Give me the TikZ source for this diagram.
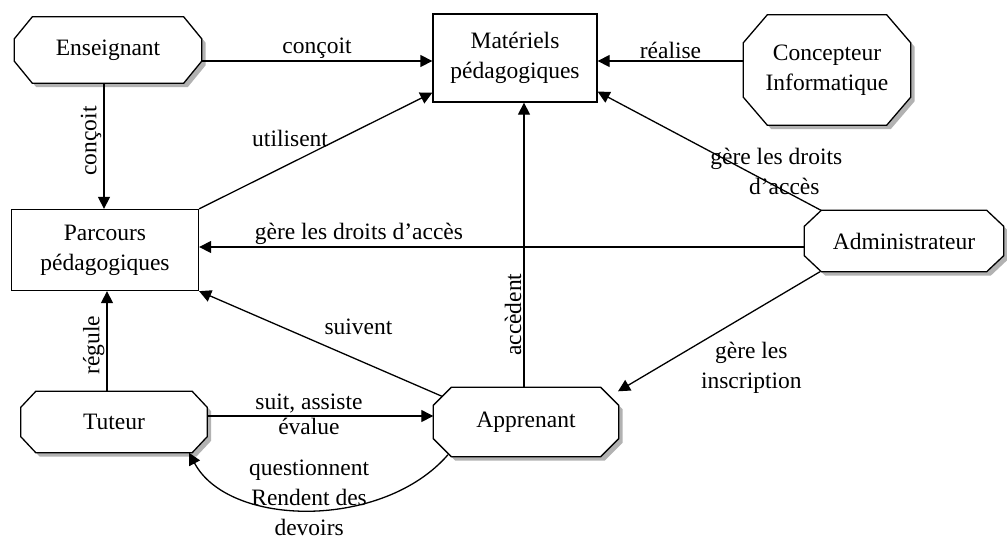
\documentclass[tikz,border=0pt]{standalone}
\usepackage{fontspec}
\setmainfont{Liberation Serif}
\usetikzlibrary{arrows.meta,shadows,backgrounds}
\newcommand{\octogone}[3]{%
  \draw[contour] ([xshift=#2]#1.north west) -- ([xshift=-#2]#1.north east) -- ([yshift=-#3]#1.north east)
    -- ([yshift=#3]#1.south east) -- ([xshift=-#2]#1.south east) -- ([xshift=#2]#1.south west)
    -- ([yshift=#3]#1.south west) -- ([yshift=-#3]#1.north west) -- cycle;}
\begin{document}
\begin{tikzpicture}[x=1pt,y=-1pt,
  every node/.style={font=\fontsize{23.5}{30}\selectfont},
  acteur/.style={rectangle, inner sep=0pt, align=center},
  contour/.style={line width=1.3pt, fill=white,
    drop shadow={shadow xshift=4pt,shadow yshift=-4pt,opacity=1,fill=gray!60}},
  objet/.style={rectangle, draw, fill=white, line width=1.3pt, inner sep=0pt, align=center},
  lien/.style={line width=1.3pt, -{Triangle[length=12pt,width=12pt]}},
  lab/.style={inner sep=2pt, align=center}]
  \useasboundingbox (0,0) rectangle (1007,542);
  \clip (0,0) rectangle (1007,542);
  \node[acteur, minimum width=187pt, minimum height=66pt] (ens) at (108,50) {Enseignant};
  \node[objet, minimum width=164pt, minimum height=88pt] (mat) at (515,58) {Matériels\\pédagogiques};
  \node[acteur, minimum width=167pt, minimum height=110pt] (conc) at (827,70) {Concepteur\\Informatique};
  \node[objet, minimum width=187pt, minimum height=81pt] (par) at (105,250) {Parcours\\pédagogiques};
  \node[acteur, minimum width=199pt, minimum height=61pt] (adm) at (904,241) {Administrateur};
  \node[acteur, minimum width=186pt, minimum height=61pt] (tut) at (114,422) {Tuteur};
  \node[acteur, minimum width=185pt, minimum height=69pt] (app) at (526,422) {Apprenant};
  \begin{scope}[on background layer]
    \octogone{ens}{18pt}{22pt}
    \octogone{conc}{24pt}{28pt}
    \octogone{adm}{17pt}{16pt}
    \octogone{tut}{15pt}{16pt}
    \octogone{app}{18pt}{18pt}
  \end{scope}

  \draw[lien] ([yshift=-11pt]ens.east) -- ([yshift=-11pt]ens.east -| mat.west) node[lab,midway,above] {conçoit};
  \draw[lien] ([xshift=-4pt]ens.south) -- ([xshift=-4pt]ens.south |- par.north) node[lab,pos=0.46,rotate=90,anchor=south] {conçoit};
  \draw[lien] (par.north east) -- ([yshift=10pt]mat.south west) node[lab,pos=0.39,above=14pt] {utilisent};
  \draw[lien] ([yshift=9pt]conc.west) -- ([yshift=9pt]conc.west -| mat.east) node[lab,midway,above] {réalise};
  \draw[lien] ([xshift=-83pt]adm.north) -- ([yshift=11pt]mat.south east) node[lab,pos=0.2,yshift=15pt] {gère les droits\\\hspace*{16pt}d’accès};
  \draw[lien] ([yshift=-6pt]adm.west) -- ([yshift=-6pt]adm.west -| par.east) node[lab,pos=0.736,above] {gère les droits d’accès};
  \draw[lien] ([xshift=-2pt]app.north) -- ([xshift=-2pt]app.north |- mat.south) node[lab,pos=0.255,rotate=90,anchor=south] {accèdent};
  \draw[lien] ([xshift=-84pt,yshift=-9pt]app.north) -- (par.south east) node[lab,pos=0.344,yshift=33pt] {suivent};
  \draw[lien] ([xshift=-7pt]tut.north) -- ([xshift=-7pt]tut.north |- par.south) node[lab,pos=0.46,rotate=90,anchor=south] {régule};
  \draw[lien] ([yshift=6pt]tut.east) -- ([yshift=6pt]tut.east -| app.west)
    node[lab,pos=0.45,above] {suit, assiste} node[lab,pos=0.45,below] {évalue};
  \draw[lien] ([xshift=-78pt,yshift=2pt]app.south) .. controls +(-65,75) and +(40,75) .. ([xshift=75pt]tut.south)
    node[lab,pos=0.5,yshift=12pt] {questionnent\\Rendent des\\devoirs};
  \draw[lien] ([xshift=-84pt]adm.south) -- ([xshift=92pt,yshift=-4pt]app.north) node[lab,pos=0.34,yshift=-55pt] {gère les\\inscription};
\end{tikzpicture}
\end{document}
